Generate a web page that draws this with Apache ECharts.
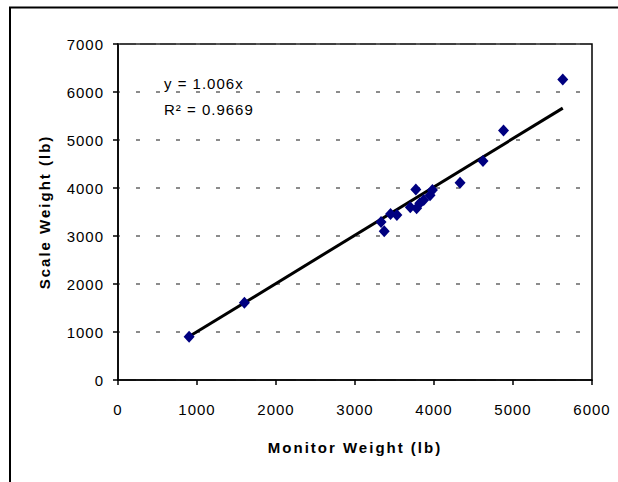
<!DOCTYPE html>
<html>
<head>
<meta charset="utf-8">
<script src="https://cdn.jsdelivr.net/npm/echarts@6/dist/echarts.min.js"></script>
<style>
html,body{margin:0;padding:0;background:#fff;}
#chart{width:618px;height:482px;}
#chart svg text{letter-spacing:1px;}
#chart svg text[style*="bold"], #chart svg text[font-weight="bold"]{letter-spacing:2px;}
</style>
</head>
<body>
<div id="chart"></div>
<script>
// Data
var monitorWeight = [900, 1600, 3330, 3370, 3450, 3530, 3700, 3770, 3780, 3820, 3870, 3950, 3980, 4330, 4620, 4880, 5630];
var scaleWeight   = [900, 1610, 3290, 3100, 3460, 3440, 3600, 3970, 3580, 3680, 3750, 3850, 3960, 4110, 4560, 5200, 6260];
var trendX = [900, 5630];
var trendY = [905, 5664];
var equationText = 'y = 1.006x';
var r2Text = 'R\u00b2 = 0.9669';
var xTitle = 'Monitor Weight (lb)';
var yTitle = 'Scale Weight (lb)';

var points = monitorWeight.map(function (x, i) { return [x, scaleWeight[i]]; });
var trend = trendX.map(function (x, i) { return [x, trendY[i]]; });

var font = '"Liberation Sans", Arial, sans-serif';
var plain = function (v) { return String(v); };
var chart = echarts.init(document.getElementById('chart'), null, { renderer: 'svg' });
chart.setOption({
  animation: false,
  backgroundColor: '#fff',
  grid: { left: 118, right: 26, top: 44, bottom: 102, show: true, borderColor: '#000', borderWidth: 1.5, backgroundColor: 'transparent' },
  xAxis: {
    type: 'value', min: 0, max: 6000, interval: 1000,
    name: xTitle, nameLocation: 'middle', nameGap: 60,
    nameTextStyle: { fontFamily: font, fontWeight: 'bold', fontSize: 15, color: '#000' },
    axisLine: { show: true, lineStyle: { color: '#000', width: 1.5 } },
    axisTick: { show: true, length: 5, lineStyle: { color: '#000', width: 1.5 } },
    axisLabel: { margin: 22, fontFamily: font, fontSize: 15, color: '#000', formatter: plain },
    splitLine: { show: false }
  },
  yAxis: {
    type: 'value', min: 0, max: 7000, interval: 1000,
    name: yTitle, nameLocation: 'middle', nameGap: 66,
    nameTextStyle: { fontFamily: font, fontWeight: 'bold', fontSize: 15, color: '#000' },
    axisLine: { show: true, lineStyle: { color: '#000', width: 1.5 } },
    axisTick: { show: true, length: 5, lineStyle: { color: '#000', width: 1.5 } },
    axisLabel: { margin: 14, fontFamily: font, fontSize: 15, color: '#000', formatter: plain },
    splitLine: { show: true, lineStyle: { color: '#666', width: 1.5, type: [4, 16], dashOffset: 2 } }
  },
  series: [
    {
      type: 'line', data: trend, symbol: 'none',
      lineStyle: { color: '#000', width: 3 }, z: 2
    },
    {
      type: 'scatter', data: points, symbol: 'diamond', symbolSize: [11, 12],
      itemStyle: { color: '#000080', opacity: 1 }, z: 3
    }
  ],
  graphic: [
    { type: 'rect', shape: { x: 10, y: 7.5, width: 700, height: 600 }, style: { fill: 'none', stroke: '#000', lineWidth: 2 }, silent: true },
    { type: 'text', left: 164, top: 76, style: { text: equationText, font: '15px ' + font, fill: '#000' } },
    { type: 'text', left: 164, top: 102, style: { text: r2Text, font: '15px ' + font, fill: '#000' } }
  ]
});
</script>
</body>
</html>
